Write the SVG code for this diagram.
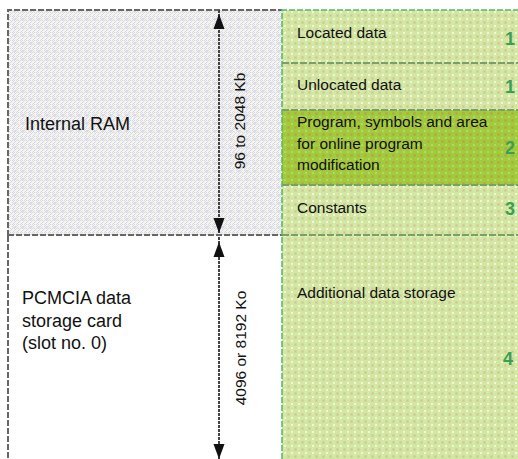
<svg xmlns="http://www.w3.org/2000/svg" width="518" height="459" viewBox="0 0 518 459">
<style>
.lbl{font-family:"Liberation Sans",Arial,sans-serif;font-size:18px;fill:#111}
.txt{font-family:"Liberation Sans",Arial,sans-serif;font-size:15.5px;fill:#111}
.num{font-family:"Liberation Sans",Arial,sans-serif;font-size:18px;font-weight:bold;fill:#3aa055}
.gborder{stroke:#55b86a;stroke-width:1.5;stroke-dasharray:6 2;fill:none}
.gdiv{stroke:#7a9f6a;stroke-width:1.8;stroke-dasharray:7 2;fill:none}
.kborder{stroke:#666;stroke-width:2;stroke-dasharray:6 2;fill:none}
.dim{stroke:#444;stroke-width:2;stroke-dasharray:3 1;fill:none}
.head{fill:#111}
</style>
<defs>
<pattern id="grey" width="8" height="8" patternUnits="userSpaceOnUse">
<rect width="8" height="8" fill="#f3f3f3"/>
<rect x="0" y="0" width="1" height="1" fill="#dadada"/>
<rect x="2" y="0" width="1" height="1" fill="#dadada"/>
<rect x="4" y="0" width="1" height="1" fill="#dadada"/>
<rect x="6" y="0" width="1" height="1" fill="#dadada"/>
<rect x="1" y="1" width="1" height="1" fill="#dadada"/>
<rect x="5" y="1" width="1" height="1" fill="#dadada"/>
<rect x="0" y="2" width="1" height="1" fill="#dadada"/>
<rect x="4" y="2" width="1" height="1" fill="#dadada"/>
<rect x="1" y="3" width="1" height="1" fill="#dadada"/>
<rect x="5" y="3" width="1" height="1" fill="#dadada"/>
<rect x="0" y="4" width="1" height="1" fill="#dadada"/>
<rect x="2" y="4" width="1" height="1" fill="#dadada"/>
<rect x="4" y="4" width="1" height="1" fill="#dadada"/>
<rect x="6" y="4" width="1" height="1" fill="#dadada"/>
<rect x="3" y="5" width="1" height="1" fill="#dadada"/>
<rect x="7" y="5" width="1" height="1" fill="#dadada"/>
<rect x="2" y="6" width="1" height="1" fill="#dadada"/>
<rect x="6" y="6" width="1" height="1" fill="#dadada"/>
<rect x="1" y="7" width="1" height="1" fill="#dadada"/>
<rect x="5" y="7" width="1" height="1" fill="#dadada"/>
<rect x="6" y="2" width="2" height="2" fill="#d8d8f4"/>
</pattern>
<pattern id="green" width="7" height="7" patternUnits="userSpaceOnUse">
<rect width="7" height="7" fill="#d1e7a2"/>
<rect x="0" y="0" width="3" height="3" fill="#d6d49e"/>
<rect x="1" y="1" width="1" height="1" fill="#cbc292"/>
<rect x="4" y="4" width="2" height="2" fill="#f2f6d8"/>
<rect x="4" y="0" width="1" height="1" fill="#dcecc4"/>
</pattern>
<pattern id="green2" width="7" height="7" patternUnits="userSpaceOnUse">
<rect width="7" height="7" fill="#a0cb3a"/>
<rect x="0" y="0" width="3" height="3" fill="#aeb346"/>
<rect x="1" y="1" width="1" height="1" fill="#c49a4a"/>
<rect x="4" y="4" width="2" height="2" fill="#b6d766"/>
</pattern>
</defs>

<g id="internal-ram">
<rect x="8" y="10" width="274" height="225" fill="url(#grey)"/>
<path class="kborder" d="M8 236 V10 H282 M8 235 H282"/>
<text class="lbl" x="25" y="130">Internal RAM</text>
</g>

<g id="pcmcia">
<rect x="8" y="236" width="274" height="223" fill="#ffffff"/>
<path class="kborder" d="M8 236 V459"/>
<text class="lbl" x="22" y="304">PCMCIA data</text>
<text class="lbl" x="22" y="327">storage card</text>
<text class="lbl" x="22" y="349">(slot no. 0)</text>
</g>

<g id="located-data">
<rect x="282" y="10" width="236" height="53" fill="url(#green)"/>
<text class="txt" x="297" y="38">Located data</text>
<text class="num" x="505" y="45">1</text>
</g>

<g id="unlocated-data">
<rect x="282" y="63" width="236" height="47" fill="url(#green)"/>
<text class="txt" x="297" y="90">Unlocated data</text>
<text class="num" x="505" y="93">1</text>
</g>

<g id="program">
<rect x="282" y="110" width="236" height="75" fill="url(#green2)"/>
<text class="txt" x="297" y="127">Program, symbols and area</text>
<text class="txt" x="297" y="149">for online program</text>
<text class="txt" x="297" y="170">modification</text>
<text class="num" x="505" y="154">2</text>
</g>

<g id="constants">
<rect x="282" y="185" width="236" height="50" fill="url(#green)"/>
<text class="txt" x="297" y="213">Constants</text>
<text class="num" x="505" y="215">3</text>
</g>

<g id="additional-storage">
<rect x="282" y="235" width="236" height="224" fill="url(#green)"/>
<text class="txt" x="297" y="298">Additional data storage</text>
<text class="num" x="503" y="365">4</text>
</g>

<g id="column-borders">
<path class="gborder" d="M282 459 V10 H518"/>
<path class="gdiv" d="M282 63 H518 M282 110 H518 M282 185 H518 M282 235 H518"/>
</g>

<g id="connectors">
<path class="dim" d="M219 10 V234"/>
<path class="head" d="M219 14 L213.5 29 L224.5 29 Z"/>
<path class="head" d="M219 233 L213.5 218 L224.5 218 Z"/>
<path class="dim" d="M219 237 V459"/>
<path class="head" d="M219 242 L213.5 257 L224.5 257 Z"/>
<path class="head" d="M219 459 L213.5 444 L224.5 444 Z"/>
<text class="txt" transform="translate(245 121) rotate(-90)" text-anchor="middle">96 to 2048 Kb</text>
<text class="txt" transform="translate(246 348) rotate(-90)" text-anchor="middle">4096 or 8192 Ko</text>
</g>
</svg>
